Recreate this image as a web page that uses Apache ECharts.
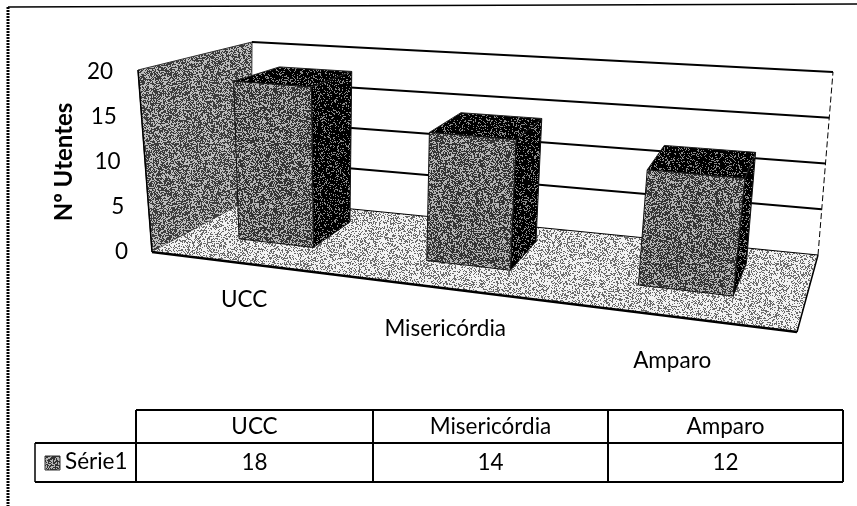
<!DOCTYPE html>
<html>
<head>
<meta charset="utf-8">
<style>html,body{margin:0;padding:0;background:#fff}#main{width:857px;height:506px}</style>
<script src="https://cdn.jsdelivr.net/npm/echarts@6/dist/echarts.min.js"></script>
</head>
<body>
<div id="main"></div>
<script>
var categories = ['UCC', 'Misericórdia', 'Amparo'];
var values = [18, 14, 12];
var seriesName = 'Série1';
var yTicks = [0, 5, 10, 15, 20];
var yTitle = 'Nº Utentes';

var FONT = 'Lato, "Open Sans", sans-serif';
var INK = '#000';

// cantos da caixa 3D (frente/fundo, base/topo)
var box = {
  fbl: [152, 252], fbr: [797, 332], bbl: [251, 199], bbr: [818, 255],
  ftl: [138, 70], ftr: [825, 124], btl: [252, 42], btr: [833, 72]
};
var persp = 1.2; // encurtamento da perspectiva no eixo x
var barDepth = [0.36, 0.8];

function mix(a, b, t) {
  return [a[0] + (b[0] - a[0]) * t, a[1] + (b[1] - a[1]) * t];
}
// t: posicao no eixo x (0-1), v: valor (0-1), d: profundidade (0-1)
function project(t, v, d) {
  var u = t / (t + persp * (1 - t));
  var bottom = mix(mix(box.fbl, box.fbr, u), mix(box.bbl, box.bbr, u), d);
  var top = mix(mix(box.ftl, box.ftr, u), mix(box.btl, box.btr, u), d);
  return mix(bottom, top, v);
}

// textura pontilhada da digitalizacao (sem aleatorio, so um hash fixo)
function stipple(density, light, dark) {
  var c = document.createElement('canvas');
  c.width = c.height = 120;
  var g = c.getContext('2d');
  g.fillStyle = light;
  g.fillRect(0, 0, 120, 120);
  g.fillStyle = dark;
  for (var y = 0; y < 120; y++) {
    for (var x = 0; x < 120; x++) {
      var h = (x * 374761393 + y * 668265263) | 0;
      h = Math.imul(h ^ (h >>> 13), 1274126177);
      h = (h ^ (h >>> 16)) >>> 0;
      if (h % 1000 < density * 1000) g.fillRect(x, y, 1, 1);
    }
  }
  return { image: c, repeat: 'repeat' };
}
var fillFront = stipple(0.58, '#b4b4b4', '#333');
var fillWall = stipple(0.55, '#bcbcbc', '#3c3c3c');
var fillFloor = stipple(0.35, '#f2f2f2', '#6a6a6a');
var fillDark = stipple(0.8, '#8a8a8a', '#000');

function poly(points, fill, stroke, lw) {
  return {
    type: 'polygon',
    shape: { points: points },
    style: { fill: fill, stroke: stroke || null, lineWidth: lw || 0 }
  };
}
function line(a, b, w, dash) {
  return {
    type: 'line',
    shape: { x1: a[0], y1: a[1], x2: b[0], y2: b[1] },
    style: { stroke: INK, lineWidth: w, lineDash: dash || null }
  };
}

function renderBox(params, api) {
  var kids = [];
  // parede esquerda, chao
  kids.push(poly([project(0, 0, 0), project(0, 1, 0), project(0, 1, 1), project(0, 0, 1)], fillWall, '#333', 1));
  kids.push(poly([project(0, 0, 0), project(1, 0, 0), project(1, 0, 1), project(0, 0, 1)], fillFloor));
  // linhas da parede do fundo
  yTicks.forEach(function (tick) {
    var v = tick / yTicks[yTicks.length - 1];
    if (tick > 0) kids.push(line(project(0, v, 1), project(1, v, 1), 2));
  });
  kids.push(line(project(1, 0, 1), project(1, 1, 1), 1, [6, 3]));
  kids.push(line(project(0, 0, 0), project(1, 0, 0), 2.5));
  kids.push(line(project(1, 0, 0), project(1, 0, 1), 1.5));
  kids.push(line(project(0, 0, 1), project(1, 0, 1), 1));
  kids.push(line(project(0, 0, 0), project(0, 1, 0), 1.5));
  return { type: 'group', children: kids, silent: true };
}

function renderBar(params, api) {
  var rect = params.coordSys;
  var base = api.coord([api.value(0), 0]);
  var head = api.coord([api.value(0), api.value(1)]);
  var half = api.size([1, 0])[0] * 0.205;
  var t0 = (base[0] - half - rect.x) / rect.width;
  var t1 = (base[0] + half - rect.x) / rect.width;
  var v = (base[1] - head[1]) / rect.height;
  var d0 = barDepth[0], d1 = barDepth[1];
  var label = project((base[0] - rect.x) / rect.width, 0, 0);
  return {
    type: 'group',
    silent: true,
    children: [
      poly([project(t1, 0, d0), project(t1, 0, d1), project(t1, v, d1), project(t1, v, d0)], fillDark, '#111', 1),
      poly([project(t0, v, d0), project(t1, v, d0), project(t1, v, d1), project(t0, v, d1)], fillDark, '#222', 1),
      poly([project(t0, 0, d0), project(t1, 0, d0), project(t1, v, d0), project(t0, v, d0)], fillFront, '#111', 1),
      {
        type: 'text',
        style: {
          text: categories[api.value(0)],
          x: label[0],
          y: label[1] + 36 + params.dataIndex * 4,
          align: 'center',
          verticalAlign: 'middle',
          font: '22.5px ' + FONT,
          fill: INK
        }
      }
    ]
  };
}

// tabela de dados
var tableX = [136, 373, 608, 843];
var tableY = [410, 443, 482];
var keyLeft = 35;
function tableGraphics() {
  var els = [];
  function seg(x1, y1, x2, y2, w) {
    els.push({ type: 'line', shape: { x1: x1, y1: y1, x2: x2, y2: y2 }, style: { stroke: INK, lineWidth: w || 1.5 } });
  }
  function txt(s, x, y, align) {
    els.push({
      type: 'text',
      style: { text: s, x: x, y: y, align: align || 'center', verticalAlign: 'middle', font: '22.5px ' + FONT, fill: INK }
    });
  }
  seg(tableX[0], tableY[0], tableX[3], tableY[0], 2);
  seg(keyLeft, tableY[1], tableX[3], tableY[1], 2);
  seg(keyLeft, tableY[2], tableX[3], tableY[2], 2);
  seg(keyLeft, tableY[1], keyLeft, tableY[2]);
  tableX.forEach(function (x) { seg(x, tableY[0], x, tableY[2], 2); });
  categories.forEach(function (name, i) {
    var cx = (tableX[i] + tableX[i + 1]) / 2;
    txt(name, cx, (tableY[0] + tableY[1]) / 2);
    txt(String(values[i]), cx, (tableY[1] + tableY[2]) / 2);
  });
  els.push({ type: 'rect', shape: { x: 45, y: 456, width: 15, height: 14 }, style: { fill: fillFront, stroke: '#333', lineWidth: 1 } });
  txt(seriesName, 65, 462, 'left');
  // moldura do grafico
  els.push({ type: 'line', shape: { x1: 8, y1: 7, x2: 857, y2: 4 }, style: { stroke: INK, lineWidth: 1.5 } });
  els.push({ type: 'line', shape: { x1: 8, y1: 7, x2: 8, y2: 506 }, style: { stroke: INK, lineWidth: 3, lineDash: [2, 1] } });
  return els;
}

var tickRich = {};
yTicks.forEach(function (t) {
  tickRich['t' + t] = { fontSize: 22.5, fontFamily: FONT, color: INK, padding: [0, t * 0.75, 0, 0] };
});

var chart = echarts.init(document.getElementById('main'), null, { renderer: 'canvas' });
chart.setOption({
  animation: false,
  backgroundColor: '#fff',
  grid: { left: 138, top: 72, bottom: 254, width: 660, containLabel: false },
  xAxis: { type: 'category', data: categories, show: false },
  yAxis: {
    type: 'value',
    min: 0,
    max: 20,
    interval: 5,
    name: yTitle,
    nameLocation: 'middle',
    nameRotate: 90,
    nameGap: 62,
    nameTextStyle: { fontFamily: FONT, fontSize: 24, fontWeight: 'bold', color: INK },
    axisLine: { show: false },
    axisTick: { show: false },
    splitLine: { show: false },
    axisLabel: {
      margin: 10,
      formatter: function (v) { return '{t' + v + '|' + v + '}'; },
      rich: tickRich
    }
  },
  graphic: { elements: tableGraphics() },
  series: [
    { type: 'custom', data: [[0, 0]], renderItem: renderBox, z: 1, clip: false },
    { type: 'custom', name: seriesName, data: values.map(function (v, i) { return [i, v]; }), renderItem: renderBar, z: 2, clip: false }
  ]
});
</script>
</body>
</html>
